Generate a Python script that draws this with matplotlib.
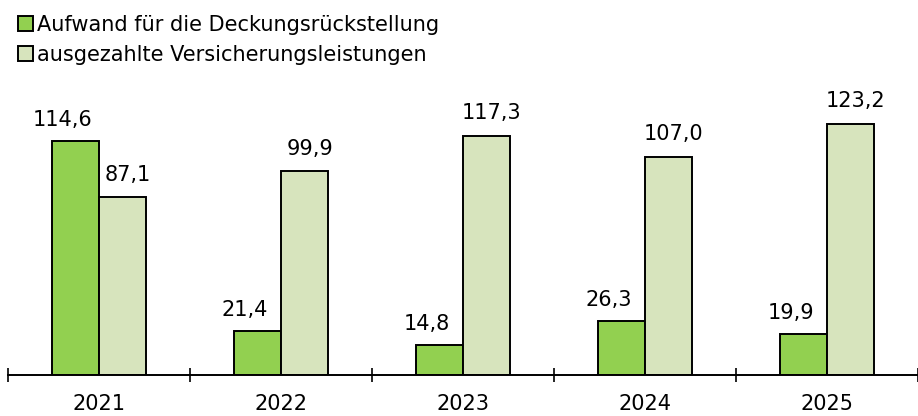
import numpy as np
import matplotlib
matplotlib.use('Agg')
import matplotlib.pyplot as plt

years = ['2021', '2022', '2023', '2024', '2025']
aufwand = [114.6, 21.4, 14.8, 26.3, 19.9]
leistungen = [87.1, 99.9, 117.3, 107.0, 123.2]
aufwand_labels = ['114,6', '21,4', '14,8', '26,3', '19,9']
leistungen_labels = ['87,1', '99,9', '117,3', '107,0', '123,2']

# DejaVu Sans ist breiter, passt besser zur gestreckten Vorlage
plt.rcParams['font.family'] = ['DejaVu Sans']

fig = plt.figure(figsize=(9.18, 4.16), dpi=100)
ax = fig.add_axes([8 / 918, 41 / 416, 910 / 918, 275 / 416])

x = np.arange(len(years))
w = 0.26
c_dark = '#92D050'
c_light = '#D7E4BD'

b1 = ax.bar(x - w / 2, aufwand, w, color=c_dark, edgecolor='black', linewidth=1.4,
            label='Aufwand für die Deckungsrückstellung')
b2 = ax.bar(x + w / 2, leistungen, w, color=c_light, edgecolor='black', linewidth=1.4,
            label='ausgezahlte Versicherungsleistungen')

# Datenbeschriftungen
for i in range(len(years)):
    ax.annotate(aufwand_labels[i], (x[i] - w / 2, aufwand[i]), xytext=(-9, 11),
                textcoords='offset points', ha='center', va='baseline', fontsize=15)
    ax.annotate(leistungen_labels[i], (x[i] + w / 2, leistungen[i]), xytext=(3.5, 12),
                textcoords='offset points', ha='center', va='baseline', fontsize=15)

ax.set_xlim(-0.5, -0.5 + 910 / 184)
ax.set_ylim(0, 134.8)

for s in ['top', 'right', 'left']:
    ax.spines[s].set_visible(False)
ax.spines['bottom'].set_linewidth(1.4)
ax.set_yticks([])

ax.set_xticks(np.arange(len(years) + 1) - 0.5)
ax.set_xticklabels([])
ax.tick_params(axis='x', which='major', direction='inout', length=9.5, width=1.2)
ax.set_xticks(x, minor=True)
ax.set_xticklabels(years, minor=True, fontsize=15)
ax.tick_params(axis='x', which='minor', length=0, pad=14)

fig.legend(handles=[b1, b2], loc='upper left', bbox_to_anchor=(0.011, 0.985),
           frameon=False, fontsize=15, handlelength=0.7, handleheight=0.7,
           handletextpad=0.2, labelspacing=0.5, borderaxespad=0)

fig.savefig('out.png', dpi=100)
